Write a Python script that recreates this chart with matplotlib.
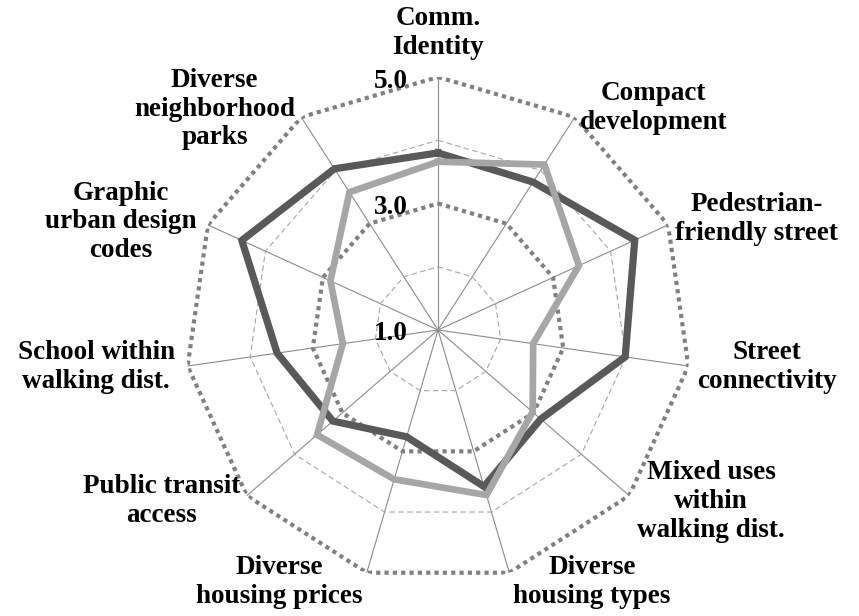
"""
Radar chart: walkability / neighbourhood design scores, two series.
"""

import numpy as np
import matplotlib

matplotlib.use("Agg")
import matplotlib.pyplot as plt

categories = [
    "Comm.\nIdentity",
    "Compact\ndevelopment",
    "Pedestrian-\nfriendly street",
    "Street\nconnectivity",
    "Mixed uses\nwithin\nwalking dist.",
    "Diverse\nhousing types",
    "Diverse\nhousing prices",
    "Public transit\naccess",
    "School within\nwalking dist.",
    "Graphic\nurban design\ncodes",
    "Diverse\nneighborhood\nparks",
]
scores_dark = [3.80, 3.78, 4.42, 3.99, 3.15, 3.58, 2.76, 3.20, 3.57, 4.41, 4.03]
scores_light = [3.66, 4.11, 3.45, 2.52, 2.98, 3.72, 3.46, 3.53, 2.52, 2.87, 3.59]

r_min, r_max = 1.0, 5.0
major_rings = [3.0, 5.0]
minor_rings = [2.0, 4.0]
tick_values = [5.0, 3.0, 1.0]
tick_labels = ["5.0", "3.0", "1.0"]

# label placement: offset from the spoke end (pixels, +y is up) and alignment
label_offsets = [(0, 44), (5, 9), (7, 6), (9, -1), (8, -6), (4, -9),
                 (-4, -9), (-7, -5), (-13, -1), (-11, 3), (-6, 8)]
label_ha = ["center", "left", "left", "left", "left", "left",
            "right", "right", "right", "right", "right"]

FONT = "Liberation Serif"
PX = 0.72  # points per pixel at 100 dpi


def closed(values):
    return list(values) + [values[0]]


def main():
    n = len(categories)
    angles = np.linspace(0, 2 * np.pi, n, endpoint=False)
    ang_c = closed(angles)

    fig = plt.figure(figsize=(8.59, 6.16), dpi=100)
    ax = fig.add_axes([0.2154, 0.0536, 0.589, 0.8214], polar=True)
    ax.set_theta_zero_location("N")
    ax.set_theta_direction(-1)
    ax.set_ylim(r_min, r_max)
    ax.set_axis_off()

    # spokes
    for a in angles:
        ax.plot([a, a], [r_min, r_max], color="#8c8c8c", lw=0.8, zorder=1)

    # polygon rings
    for r in minor_rings:
        ax.plot(ang_c, [r] * (n + 1), color="#a6a6a6", lw=0.8,
                linestyle=(0, (5, 3)), zorder=1)
    for r in major_rings:
        ax.plot(ang_c, [r] * (n + 1), color="#808080", lw=3.0,
                linestyle=(0, (1, 1)), dash_capstyle="butt", zorder=2)

    # data
    ax.plot(ang_c, closed(scores_dark), color="#595959", lw=5.2,
            solid_joinstyle="miter", zorder=3)
    ax.plot(ang_c, closed(scores_light), color="#a6a6a6", lw=4.8,
            solid_joinstyle="miter", zorder=4)

    # radial tick labels
    for v, t in zip(tick_values, tick_labels):
        ax.annotate(t, xy=(0, v), xytext=(-30 * PX, -4 * PX),
                    textcoords="offset points", ha="right", va="center",
                    fontsize=19.5, fontweight="bold", family=FONT, zorder=5)

    # category labels
    for a, lab, (dx, dy), ha in zip(angles, categories, label_offsets, label_ha):
        ax.annotate(lab, xy=(a, r_max), xytext=(dx * PX, dy * PX),
                    textcoords="offset points", ha=ha, va="center",
                    multialignment="center", linespacing=1.2,
                    fontsize=19.5, fontweight="bold", family=FONT,
                    annotation_clip=False, zorder=5)

    fig.savefig("out.png", dpi=100)


if __name__ == "__main__":
    main()
